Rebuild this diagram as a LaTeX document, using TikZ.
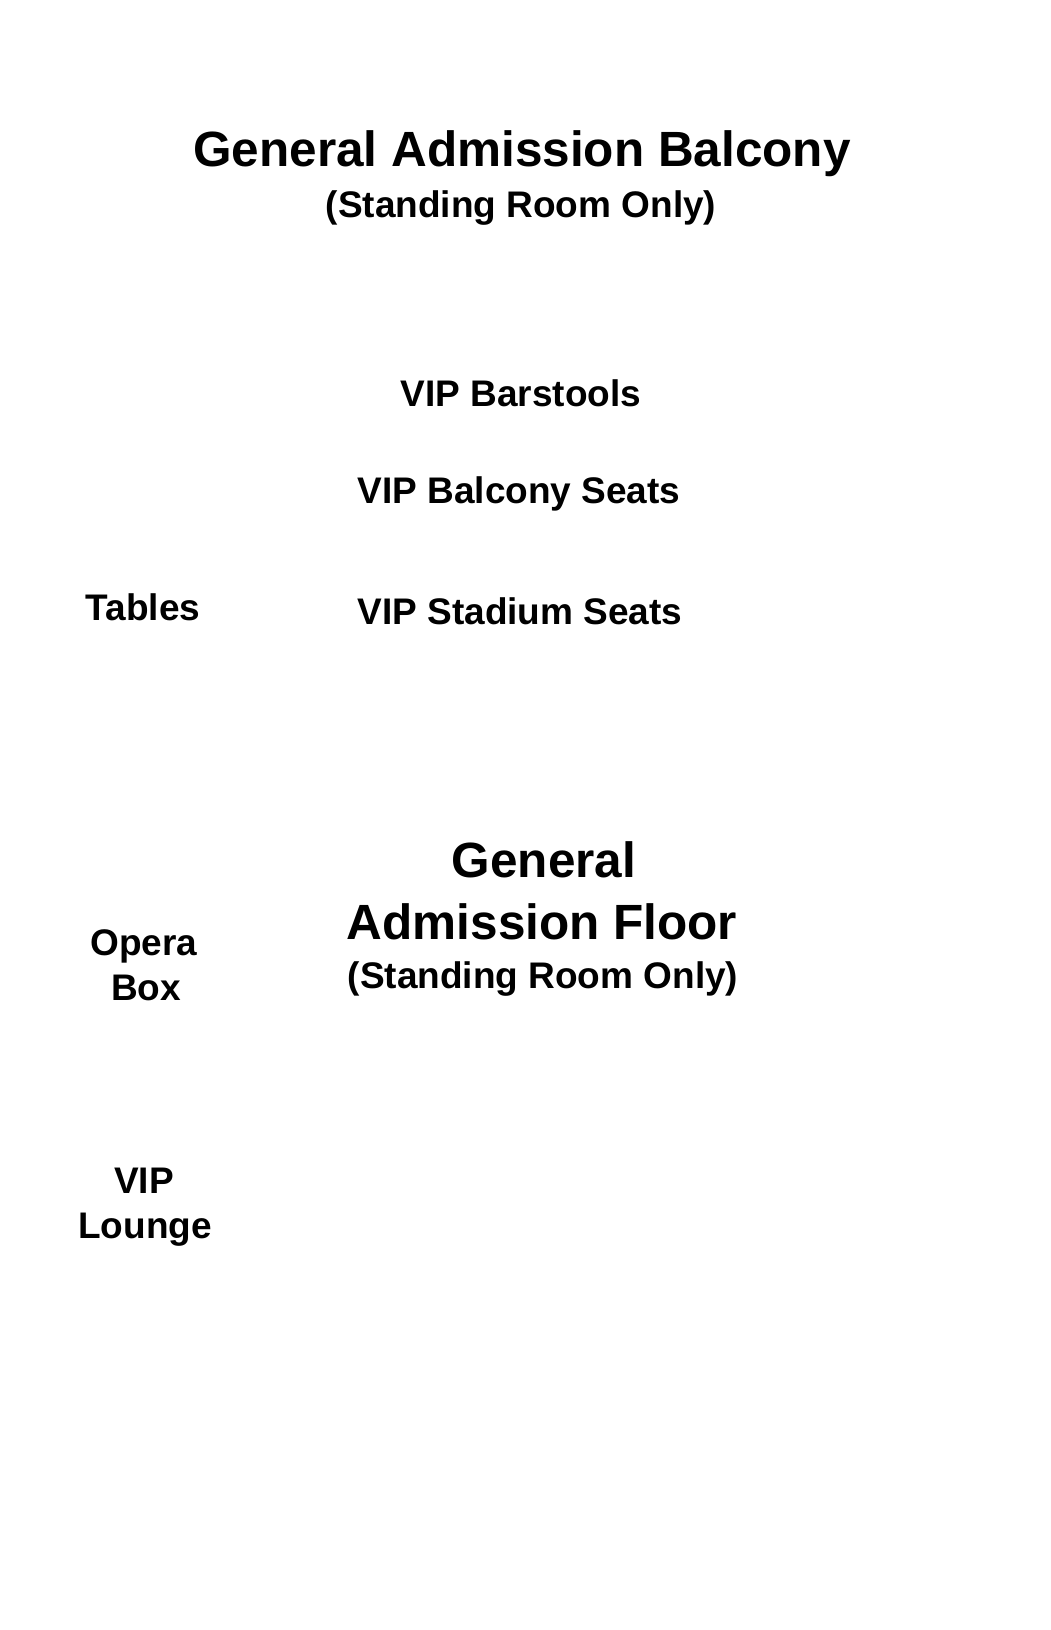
\documentclass[tikz,border=0pt]{standalone}
\usepackage{fontspec}
\setmainfont{Liberation Sans}
\tikzset{
  lbl/.style={anchor=base, inner sep=0pt, outer sep=0pt, font=\bfseries\fontsize{37}{44}\selectfont},
  big/.style={anchor=base, inner sep=0pt, outer sep=0pt, font=\bfseries\fontsize{49.5}{60}\selectfont}
}
\begin{document}
\begin{tikzpicture}[x=1pt,y=-1pt]
\useasboundingbox (0,0) rectangle (1050,1630);
\node[big] (gab) at (522,166) {General Admission Balcony};
\node[lbl] (gabs) at (521,217) {(Standing Room Only)};
\node[lbl] (bar) at (521,406) {VIP Barstools};
\node[lbl] (bal) at (519,503) {VIP Balcony Seats};
\node[lbl] (tab) at (143,620) {Tables};
\node[lbl] (sta) at (520,624) {VIP Stadium Seats};
\node[big] (gaf1) at (544,877) {General};
\node[big] (gaf2) at (542,939) {Admission Floor};
\node[lbl] (gafs) at (543,988.5) {(Standing Room Only)};
\node[lbl] (op1) at (144,955) {Opera};
\node[lbl] (op2) at (146,1000) {Box};
\node[lbl] (vl1) at (144,1193.5) {VIP};
\node[lbl] (vl2) at (145,1238.5) {Lounge};
\end{tikzpicture}
\end{document}
